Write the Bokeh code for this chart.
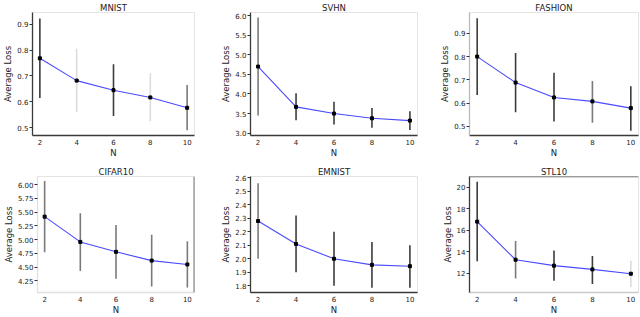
from bokeh.plotting import figure
from bokeh.layouts import column, row
from bokeh.models import Range1d, FixedTicker, NumeralTickFormatter, Span, ColumnDataSource
from bokeh.embed import file_html
from bokeh.resources import INLINE

# ---------------- data ----------------
N = [2, 4, 6, 8, 10]
x_ticks = [2, 4, 6, 8, 10]

mnist_mean = [0.768, 0.682, 0.645, 0.617, 0.577]
mnist_low = [0.615, 0.560, 0.545, 0.525, 0.490]
mnist_high = [0.922, 0.805, 0.745, 0.710, 0.665]
mnist_ticks = [0.5, 0.6, 0.7, 0.8, 0.9]

svhn_mean = [4.70, 3.67, 3.50, 3.38, 3.32]
svhn_low = [3.45, 3.33, 3.22, 3.14, 3.08]
svhn_high = [5.95, 4.02, 3.80, 3.64, 3.56]
svhn_ticks = [3.0, 3.5, 4.0, 4.5, 5.0, 5.5, 6.0]

fashion_mean = [0.800, 0.688, 0.624, 0.607, 0.578]
fashion_low = [0.635, 0.560, 0.520, 0.515, 0.480]
fashion_high = [0.965, 0.815, 0.730, 0.695, 0.672]
fashion_ticks = [0.5, 0.6, 0.7, 0.8, 0.9]

cifar_mean = [5.42, 4.96, 4.78, 4.62, 4.55]
cifar_low = [4.77, 4.43, 4.29, 4.15, 4.13]
cifar_high = [6.07, 5.48, 5.27, 5.09, 4.97]
cifar_ticks = [4.25, 4.50, 4.75, 5.00, 5.25, 5.50, 5.75, 6.00]

emnist_mean = [2.280, 2.110, 2.000, 1.955, 1.945]
emnist_low = [2.000, 1.900, 1.800, 1.785, 1.785]
emnist_high = [2.560, 2.320, 2.200, 2.125, 2.100]
emnist_ticks = [1.8, 1.9, 2.0, 2.1, 2.2, 2.3, 2.4, 2.5, 2.6]

stl_mean = [16.80, 13.25, 12.70, 12.35, 11.95]
stl_low = [13.10, 11.50, 11.30, 11.00, 10.70]
stl_high = [20.50, 15.00, 14.10, 13.60, 13.15]
stl_ticks = [12, 14, 16, 18, 20]

FONT = "DejaVu Sans"


def panel(title, mean, low, high, ticks, fmt, y0, y1, err_colors,
          width, height, bl, br, bt, bb, left_col="#3a3a3a", bottom_col="#3a3a3a"):
    p = figure(width=width, height=height, output_backend="svg", toolbar_location=None,
               x_range=Range1d(1.6, 10.4), y_range=Range1d(y0, y1),
               min_border_left=bl, min_border_right=br, min_border_top=bt, min_border_bottom=bb)
    p.title.text = title
    p.title.align = "center"
    p.title.text_font = FONT
    p.title.text_font_size = "8.5px"
    p.title.text_font_style = "normal"
    p.title.text_color = "#222222"
    p.title.standoff = 0
    p.title.offset = 0
    p.grid.visible = False
    p.outline_line_color = "#e4e4e4"
    p.outline_line_width = 1
    p.background_fill_color = "white"
    p.border_fill_color = "white"

    src = ColumnDataSource(dict(x=N, lo=low, hi=high, c=err_colors))
    p.segment(x0="x", y0="lo", x1="x", y1="hi", source=src, line_color="c", line_width=1.6)
    p.line(N, mean, line_color="#4a4aff", line_width=1.1)
    p.scatter(N, mean, marker="square", size=3, color="black")

    for ax, col in ((p.xaxis, bottom_col), (p.yaxis, left_col)):
        ax.axis_line_color = col
        ax.axis_line_width = 1.3
        ax.major_tick_line_color = "#333333"
        ax.major_tick_in = 0
        ax.major_tick_out = 3
        ax.minor_tick_line_color = None
        ax.major_label_text_font = FONT
        ax.major_label_text_font_size = "7px"
        ax.major_label_text_color = "#222222"
        ax.major_label_standoff = 1
        ax.axis_label_text_font = FONT
        ax.axis_label_text_font_size = "8.5px"
        ax.axis_label_text_font_style = "normal"
        ax.axis_label_text_color = "#222222"
        ax.axis_label_standoff = 1
    p.xaxis.ticker = FixedTicker(ticks=x_ticks)
    p.xaxis.major_tick_line_color = None
    p.xaxis.major_tick_out = 2
    p.xaxis.axis_label_standoff = 0
    p.xaxis.axis_label = "N"
    p.yaxis.ticker = FixedTicker(ticks=ticks)
    p.yaxis.formatter = NumeralTickFormatter(format=fmt)
    p.yaxis.axis_label = "Average Loss"
    return p


dark = "#3c3c3c"
light = "#dcdcdc"
mid = "#7a7a7a"

H1, H2 = 160, 157
p1 = panel("MNIST", mnist_mean, mnist_low, mnist_high, mnist_ticks, "0.0", 0.47, 0.945,
           [dark, light, dark, light, mid], 218, H1, 24, 24, 9, 25)
p2 = panel("SVHN", svhn_mean, svhn_low, svhn_high, svhn_ticks, "0.0", 2.94, 6.08,
           [mid, dark, dark, dark, dark], 210, H1, 28, 11, 9, 25)
p3 = panel("FASHION", fashion_mean, fashion_low, fashion_high, fashion_ticks, "0.0", 0.46, 0.99,
           [dark, dark, dark, mid, dark], 212, H1, 41, 2, 9, 25, left_col="#bbbbbb")
p4 = panel("CIFAR10", cifar_mean, cifar_low, cifar_high, cifar_ticks, "0.00", 4.04, 6.15,
           [mid, mid, mid, mid, mid], 218, H2, 24, 24, 16, 18, left_col="#e0e0e0", bottom_col="#e0e0e0")
p4.add_layout(Span(location=10.4, dimension="height", line_color="#777777", line_width=2))
p5 = panel("EMNIST", emnist_mean, emnist_low, emnist_high, emnist_ticks, "0.0", 1.75, 2.61,
           [mid, dark, dark, dark, dark], 210, H2, 28, 11, 16, 18)
p6 = panel("STL10", stl_mean, stl_low, stl_high, stl_ticks, "0", 10.2, 21.0,
           [dark, mid, dark, dark, light], 212, H2, 41, 2, 14, 18, bottom_col="#cccccc")
p6.add_layout(Span(location=21.0, dimension="width", line_color="#555555", line_width=1.5))

layout = column(row(p1, p2, p3, spacing=0), row(p4, p5, p6, spacing=0), spacing=0)

open("out.html", "w").write(file_html(layout, INLINE))
